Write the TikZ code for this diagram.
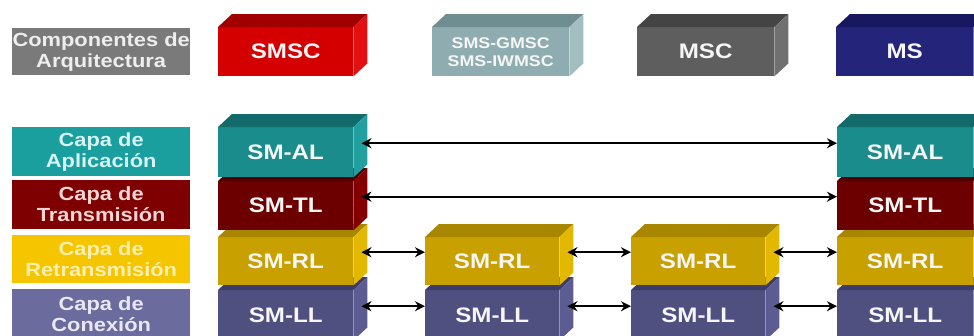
\documentclass[tikz,border=0pt]{standalone}
\usepackage{fontspec}
\setmainfont[FakeStretch=1.15]{Liberation Sans}
\usetikzlibrary{arrows.meta}

% face colours of the 3-D blocks: front / top / side
\definecolor{smscF}{HTML}{D40000}\definecolor{smscT}{HTML}{A00000}\definecolor{smscS}{HTML}{E21010}
\definecolor{gmscF}{HTML}{8FADB1}\definecolor{gmscT}{HTML}{6F8E92}\definecolor{gmscS}{HTML}{A3BEC1}
\definecolor{mscF}{HTML}{5E5E5E}\definecolor{mscT}{HTML}{444444}\definecolor{mscS}{HTML}{707070}
\definecolor{msF}{HTML}{24247A}\definecolor{msT}{HTML}{181860}\definecolor{msS}{HTML}{2E2E8A}
\definecolor{alF}{HTML}{1B8C8C}\definecolor{alT}{HTML}{136A6A}\definecolor{alS}{HTML}{22A0A0}
\definecolor{tlF}{HTML}{6C0000}\definecolor{tlT}{HTML}{500000}\definecolor{tlS}{HTML}{840000}
\definecolor{rlF}{HTML}{C8A000}\definecolor{rlT}{HTML}{A88600}\definecolor{rlS}{HTML}{E3B800}
\definecolor{llF}{HTML}{4F4F80}\definecolor{llT}{HTML}{3C3C66}\definecolor{llS}{HTML}{5C5C92}
% layer name tabs
\definecolor{compBG}{HTML}{7A7A7A}\definecolor{compTX}{HTML}{EEEEEE}
\definecolor{apBG}{HTML}{1A9E9E}\definecolor{apTX}{HTML}{D6F4F4}
\definecolor{trBG}{HTML}{7E0000}\definecolor{trTX}{HTML}{F5D5D5}
\definecolor{reBG}{HTML}{F5C500}\definecolor{reTX}{HTML}{FDEFB0}
\definecolor{coBG}{HTML}{6B6B9E}\definecolor{coTX}{HTML}{E8E8F4}
\definecolor{boxTX}{HTML}{F6F6F6}

\tikzset{
  cubeface/.style={inner sep=0pt, text=boxTX, font=\fontsize{21}{22}\selectfont\bfseries, align=center},
  tabbox/.style={inner sep=0pt, anchor=north west, minimum width=178pt,
    font=\fontsize{19}{21}\selectfont\bfseries, align=center},
  link/.style={line width=1.8pt, {Stealth[length=10pt,width=10pt]}-{Stealth[length=10pt,width=10pt]}}
}

% smaller lettering for the two-line component name
\newcommand\smalltxt[1]{{\fontsize{15.5}{18}\selectfont #1}}

% #1 name, #2 x, #3 y, #4 width, #5 height, #6 front, #7 top, #8 side, #9 text
\newcommand\layercube[9]{%
  \node[cubeface, fill=#6, minimum width=#4pt, minimum height=#5pt, anchor=north west] (#1) at (#2,#3) {#9};
  \fill[#7] (#1.north west) -- ++(14pt,13pt) -- ([shift={(14pt,13pt)}]#1.north east) -- (#1.north east) -- cycle;
  \fill[#8] (#1.north east) -- ++(14pt,13pt) -- ([shift={(14pt,13pt)}]#1.south east) -- (#1.south east) -- cycle;
  \coordinate (#1-in) at ([yshift=9pt]#1.west);
  \coordinate (#1-out) at ([shift={(8pt,9pt)}]#1.east);
}

\begin{document}
\begin{tikzpicture}[x=1pt, y=-1pt]
\useasboundingbox (0,0) rectangle (974,335);
\clip (0,0) rectangle (974,335);
\fill[white] (0,0) rectangle (974,335);

% architecture components
\node[tabbox, fill=compBG, text=compTX, minimum height=47pt] (comp) at (12,28) {Componentes de\\Arquitectura};
\layercube{smsc}{218}{27}{135}{49}{smscF}{smscT}{smscS}{SMSC}
\layercube{gmsc}{432}{27}{137}{49}{gmscF}{gmscT}{gmscS}{\smalltxt{SMS-GMSC}\\[-4pt]\smalltxt{SMS-IWMSC}}
\layercube{msc}{637}{27}{137}{49}{mscF}{mscT}{mscS}{MSC}
\layercube{ms}{836}{27}{137}{49}{msF}{msT}{msS}{MS}

% layer tabs
\node[tabbox, fill=apBG, text=apTX, minimum height=49pt] (tabAL) at (12,127) {Capa de\\Aplicación};
\node[tabbox, fill=trBG, text=trTX, minimum height=49pt] (tabTL) at (12,180) {Capa de\\Transmisión};
\node[tabbox, fill=reBG, text=reTX, minimum height=48pt] (tabRL) at (12,235) {Capa de\\Retransmisión};
\node[tabbox, fill=coBG, text=coTX, minimum height=50pt] (tabLL) at (12,289) {Capa de\\Conexión};

% protocol stacks, lowest layer first so upper blocks overlap
\layercube{ll1}{218}{290}{135}{50}{llF}{llT}{llS}{SM-LL}
\layercube{ll2}{425}{290}{134}{50}{llF}{llT}{llS}{SM-LL}
\layercube{ll3}{631}{290}{134}{50}{llF}{llT}{llS}{SM-LL}
\layercube{ll4}{837}{290}{136}{50}{llF}{llT}{llS}{SM-LL}

\layercube{rl1}{218}{237}{135}{48}{rlF}{rlT}{rlS}{SM-RL}
\layercube{rl2}{425}{237}{134}{48}{rlF}{rlT}{rlS}{SM-RL}
\layercube{rl3}{631}{237}{134}{48}{rlF}{rlT}{rlS}{SM-RL}
\layercube{rl4}{837}{237}{136}{48}{rlF}{rlT}{rlS}{SM-RL}

\layercube{tl1}{218}{181}{135}{49}{tlF}{tlT}{tlS}{SM-TL}
\layercube{tl4}{837}{181}{136}{49}{tlF}{tlT}{tlS}{SM-TL}

\layercube{al1}{218}{127}{135}{50}{alF}{alT}{alS}{SM-AL}
\layercube{al4}{837}{127}{136}{50}{alF}{alT}{alS}{SM-AL}

% peer-to-peer links
\draw[link] (al1-out) -- (al4-in);
\draw[link] (tl1-out) -- (tl4-in);
\draw[link] (rl1-out) -- (rl2-in);
\draw[link] (rl2-out) -- (rl3-in);
\draw[link] (rl3-out) -- (rl4-in);
\draw[link] (ll1-out) -- (ll2-in);
\draw[link] (ll2-out) -- (ll3-in);
\draw[link] (ll3-out) -- (ll4-in);
\end{tikzpicture}
\end{document}
